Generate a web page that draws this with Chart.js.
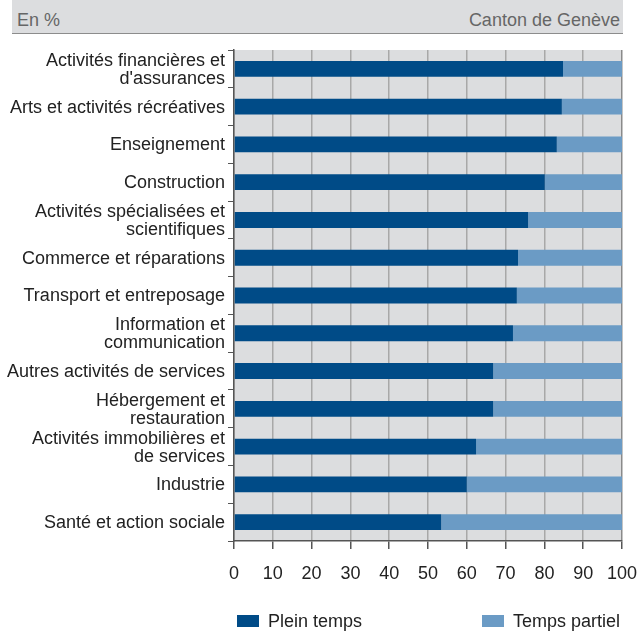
<!DOCTYPE html>
<html>
<head>
<meta charset="utf-8">
<script src="https://cdn.jsdelivr.net/npm/chart.js@4"></script>
<style>
  body { margin: 0; background: #fff; font-family: "Liberation Sans", Arial, sans-serif; }
  #wrap { position: relative; width: 637px; height: 632px; }
  #head { position: absolute; left: 12px; top: 0; width: 611px; height: 33px; background: #dcdddf; border-bottom: 1px solid #8c8c8c; }
  #head span { position: absolute; top: 10px; font-size: 18px; color: #666; }
  .leg { position: absolute; top: 611px; font-size: 18px; color: #222; }
  .leg i { display: inline-block; width: 22px; height: 12px; vertical-align: 0px; margin-right: 9px; }
</style>
</head>
<body>
<div id="wrap">
  <canvas id="c" width="637" height="632"></canvas>
  <div id="head"><span style="left:5px">En %</span><span style="right:3px">Canton de Genève</span></div>
  <div class="leg" style="left:237px"><i style="background:#004b87"></i>Plein temps</div>
  <div class="leg" style="left:482px"><i style="background:#6b9bc5"></i>Temps partiel</div>
</div>
<script>
// branches, du plus haut taux de plein temps au plus bas
const branches = [
  ['Activités financières et', "d'assurances"],
  'Arts et activités récréatives',
  'Enseignement',
  'Construction',
  ['Activités spécialisées et', 'scientifiques'],
  'Commerce et réparations',
  'Transport et entreposage',
  ['Information et', 'communication'],
  'Autres activités de services',
  ['Hébergement et', 'restauration'],
  ['Activités immobilières et', 'de services'],
  'Industrie',
  'Santé et action sociale'
]
const pleinTemps   = [84.8, 84.5, 83.2, 80.1, 75.8, 73.2, 72.9, 71.9, 66.8, 66.8, 62.4, 60.0, 53.4]
const tempsPartiel = [15.2, 15.5, 16.8, 19.9, 24.2, 26.8, 27.1, 28.1, 33.2, 33.2, 37.6, 40.0, 46.6]

const DARK = '#004b87'
const LIGHT = '#6b9bc5'

const plotBg = {
  id: 'plotBg',
  beforeDraw(chart){
    const {ctx, chartArea: a} = chart
    ctx.save()
    ctx.fillStyle = '#dcdddf'
    ctx.fillRect(a.left, a.top, a.right - a.left, a.bottom - a.top)
    ctx.restore()
  }
}

const font = {family: '"Liberation Sans", Arial, sans-serif', size: 18, lineHeight: 1.0}

new Chart(document.getElementById('c'), {
  type: 'bar',
  data: {
    labels: branches,
    datasets: [
      {label: 'Plein temps', data: pleinTemps, backgroundColor: DARK},
      {label: 'Temps partiel', data: tempsPartiel, backgroundColor: LIGHT}
    ]
  },
  options: {
    indexAxis: 'y',
    responsive: false,
    animation: false,
    barPercentage: 0.42,
    categoryPercentage: 1,
    layout: {padding: {top: 50, right: 15, left: 0, bottom: 0}},
    plugins: {legend: {display: false}, tooltip: {enabled: false}},
    scales: {
      x: {
        stacked: true,
        min: 0, max: 100,
        ticks: {stepSize: 10, color: '#222', font, padding: 16, maxRotation: 0},
        grid: {
          color: ctx => ctx.index === 10 ? '#8a8a8a' : '#a8a8a8',
          lineWidth: 1.5,
          tickLength: 8,
          tickColor: '#555'
        },
        border: {color: '#555', width: 1.5},
        afterFit(s){
          s.height = 91
          s.paddingLeft = 0
          s.paddingRight = 0
        }
      },
      y: {
        stacked: true,
        ticks: {color: '#222', font, padding: 3, autoSkip: false, labelOffset: 1},
        grid: {drawOnChartArea: false, tickLength: 6, color: '#555', offset: true},
        border: {color: '#555', width: 1.5},
        afterFit(s){
          s.width = 234
          s.paddingTop = 0
          s.paddingBottom = 0
        }
      }
    }
  },
  plugins: [plotBg]
})
</script>
</body>
</html>
